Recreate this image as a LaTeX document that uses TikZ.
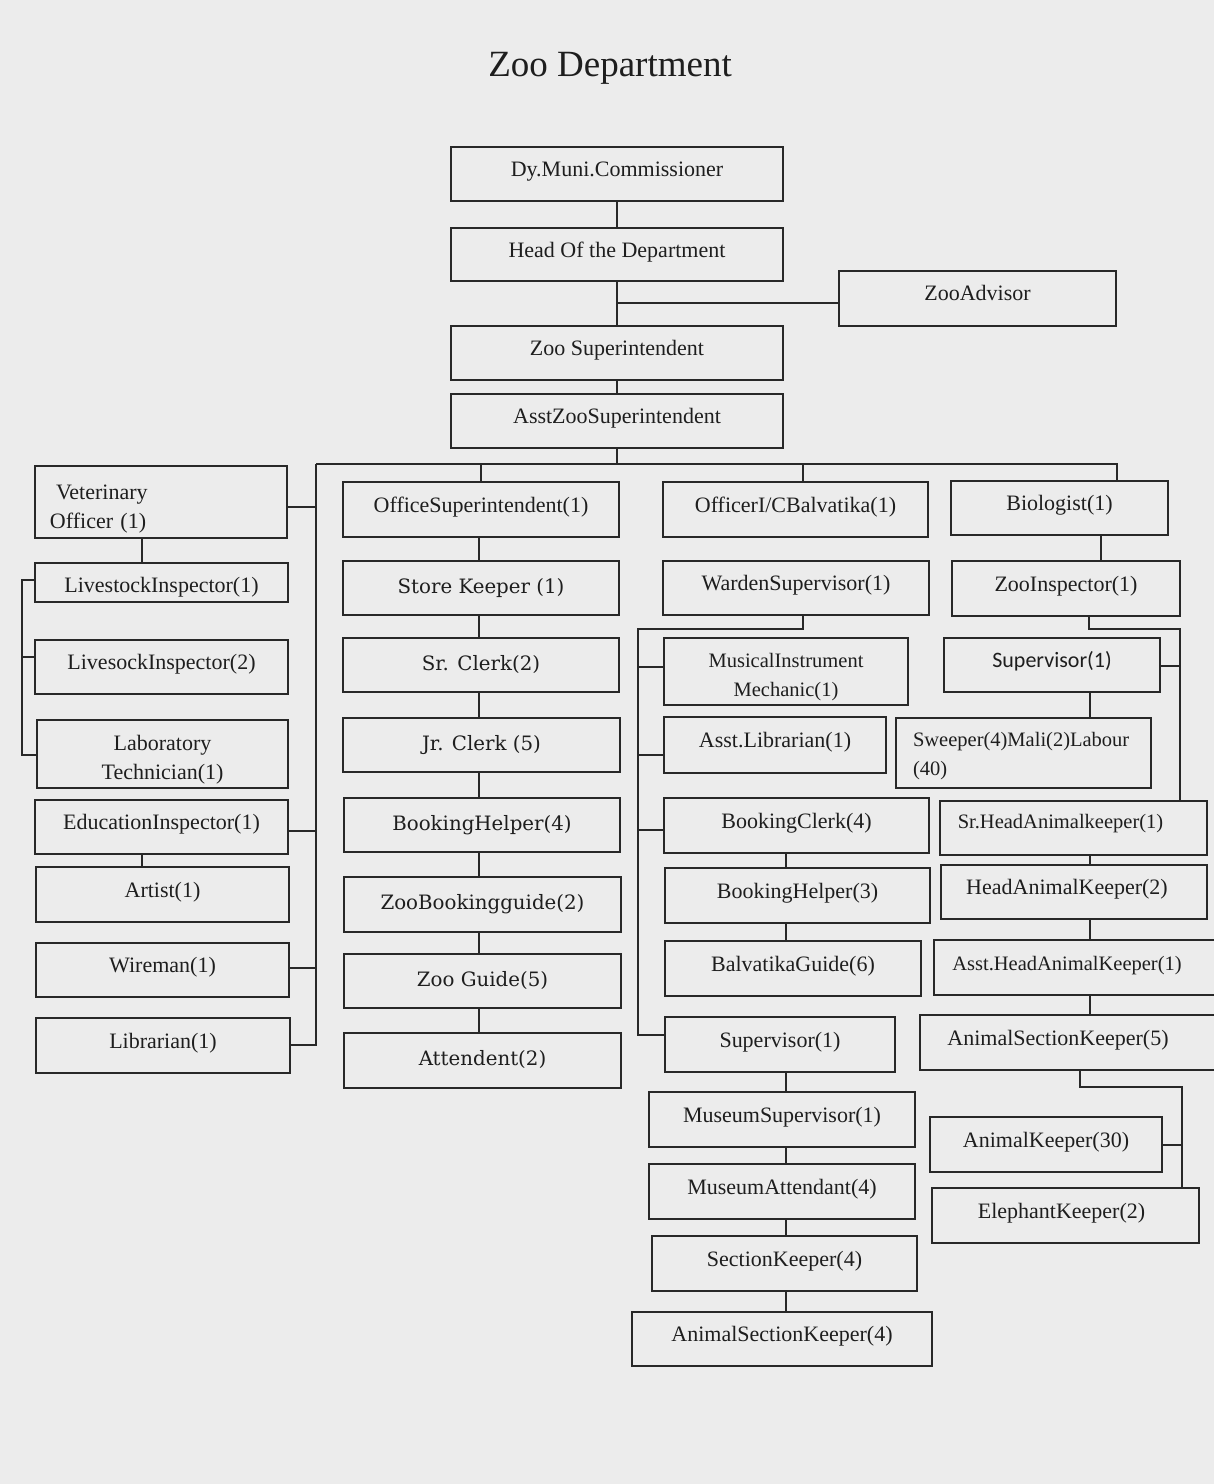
\documentclass[tikz,border=0pt]{standalone}
\usepackage{fontspec}
\setmainfont{Liberation Serif}
\newfontfamily\wideserif{DejaVu Serif}
\newfontfamily\calib{Carlito}
\definecolor{bg}{RGB}{236,236,236}
\definecolor{ink}{RGB}{40,40,40}
\definecolor{txt}{RGB}{30,30,30}
\newcommand\bx[7]{\node[box,minimum width={(#4-#2)*1pt},minimum height={(#5-#3)*1pt},#7] (#1) at ({(#2+#4)/2},{(#3+#5)/2}) {#6};}
\newcommand\bxm[7]{\node[boxm,minimum width={(#4-#2)*1pt},minimum height={(#5-#3)*1pt},#7] (#1) at ({(#2+#4)/2},{(#3+#5)/2}) {#6};}
\begin{document}
\begin{tikzpicture}[x=1pt,y=-1pt]
\tikzset{
 boxbase/.style={draw=ink, line width=1.6pt, inner sep=0pt, align=center, text=txt, font=\fontsize{22}{29}\selectfont},
 box/.style={boxbase, text height=15pt, text depth=10pt},
 boxm/.style={boxbase},
 fsmall/.style={font=\fontsize{20.5}{29}\selectfont},
 fwide/.style={font=\wideserif\fontsize{19.8}{24}\selectfont, text height=15pt, text depth=4.2pt},
 fsans/.style={font=\calib\fontsize{22}{26}\selectfont},
 conn/.style={draw=ink, line width=1.5pt},
}
\fill[bg] (0,0) rectangle (1214,1484);
\useasboundingbox (0,0) rectangle (1214,1484);
\node[font=\fontsize{37}{40}\selectfont, text=txt] (title) at (610,68) {Zoo Department};
% top
\bx{dy}{451}{147}{783}{201}{Dy.Muni.Commissioner}{}
\bx{hod}{451}{228}{783}{281}{Head Of the Department}{}
\bx{adv}{839}{271}{1116}{326}{ZooAdvisor}{text depth=12pt}
\bx{zs}{451}{326}{783}{380}{Zoo Superintendent}{}
\bx{azs}{451}{394}{783}{448}{AsstZooSuperintendent}{}
% left column
\bxm{vet}{35}{466}{287}{538}{\rule{0pt}{29pt}Veterinary\\\hspace*{-6pt}Officer (1)}{text width=210pt, align=left}
\bx{li1}{35}{563}{288}{602}{LivestockInspector(1)}{text height=25pt, text depth=4.6pt}
\bx{li2}{35}{640}{288}{694}{LivesockInspector(2)}{}
\bxm{lab}{37}{720}{288}{788}{\rule{0pt}{26pt}Laboratory\\Technician(1)}{}
\bx{edu}{35}{800}{288}{854}{EducationInspector(1)}{}
\bx{art}{36}{867}{289}{922}{Artist(1)}{}
\bx{wire}{36}{943}{289}{997}{Wireman(1)}{}
\bx{lib}{36}{1018}{290}{1073}{Librarian(1)}{}
% middle column
\bx{os}{343}{482}{619}{537}{OfficeSuperintendent(1)}{}
\bx{sk}{343}{561}{619}{615}{Store Keeper (1)}{fwide}
\bx{sc}{343}{638}{619}{692}{Sr. Clerk(2)}{fwide}
\bx{jc}{343}{718}{620}{772}{Jr. Clerk (5)}{fwide}
\bx{bhf}{344}{798}{620}{852}{BookingHelper(4)}{fwide}
\bx{zbg}{344}{877}{621}{932}{ZooBookingguide(2)}{fwide}
\bx{zg}{344}{954}{621}{1008}{Zoo Guide(5)}{fwide}
\bx{att}{344}{1033}{621}{1088}{Attendent(2)}{fwide}
% third column
\bx{oic}{663}{482}{928}{537}{OfficerI/CBalvatika(1)}{}
\bx{ws}{663}{561}{929}{615}{WardenSupervisor(1)}{}
\bxm{mim}{664}{638}{908}{705}{\rule{0pt}{25pt}MusicalInstrument\\Mechanic(1)}{fsmall}
\bx{al}{664}{717}{886}{773}{Asst.Librarian(1)}{}
\bx{bc}{664}{798}{929}{853}{BookingClerk(4)}{}
\bx{bht}{665}{868}{930}{923}{BookingHelper(3)}{}
\bx{bg}{665}{941}{921}{996}{BalvatikaGuide(6)}{}
\bx{supo}{665}{1017}{895}{1072}{Supervisor(1)}{}
\bx{ms}{649}{1092}{915}{1147}{MuseumSupervisor(1)}{}
\bx{ma}{649}{1164}{915}{1219}{MuseumAttendant(4)}{}
\bx{sek}{652}{1236}{917}{1291}{SectionKeeper(4)}{}
\bx{askf}{632}{1312}{932}{1366}{AnimalSectionKeeper(4)}{}
% fourth column
\bx{bio}{951}{481}{1168}{535}{Biologist(1)}{}
\bx{zi}{952}{561}{1180}{616}{ZooInspector(1)}{}
\bx{sv}{944}{638}{1160}{692}{Supervisor(1)}{fsans}
\bxm{sw}{896}{718}{1151}{788}{\rule{0pt}{21pt}Sweeper(4)Mali(2)Labour\\(40)}{fsmall, text width=221pt, align=left}
\bx{shak}{940}{801}{1207}{855}{\hspace*{-26pt}Sr.HeadAnimalkeeper(1)}{fsmall, text depth=14.4pt}
\bx{hak}{941}{865}{1207}{919}{\hspace*{-14pt}HeadAnimalKeeper(2)}{}
\bx{ahak}{934}{940}{1218}{995}{\hspace*{-18pt}Asst.HeadAnimalKeeper(1)}{fsmall}
\bx{askv}{920}{1015}{1218}{1070}{\hspace*{-22pt}AnimalSectionKeeper(5)}{}
\bx{ak}{930}{1117}{1162}{1172}{AnimalKeeper(30)}{}
\bx{ek}{932}{1188}{1199}{1243}{\hspace*{-8pt}ElephantKeeper(2)}{}
% ---- connectors
\coordinate (advY) at (0,303);
\draw[conn] (dy.south) -- (hod.north);
\draw[conn] (hod.south) -- (zs.north);
\draw[conn] (hod.south |- advY) -- (adv.west |- advY);
\draw[conn] (zs.south) -- (azs.north);
\coordinate (busL) at (316,464);
\coordinate (busR) at (1117,464);
\coordinate (busO) at (803,464);
\draw[conn] (azs.south) -- (azs.south |- busL);
\draw[conn] (busL) -- (busR) -- (bio.north -| busR);
\draw[conn] (os.north |- busL) -- (os.north);
\draw[conn] (busO) -- (oic.north -| busO);
% left column
\coordinate (lbBot) at (316,1045);
\draw[conn] (busL) -- (lbBot) -- (lbBot -| lib.east);
\coordinate (yVet) at (0,507);
\coordinate (yEdu) at (0,831);
\coordinate (yWire) at (0,968);
\draw[conn] (vet.east |- yVet) -- (busL |- yVet);
\draw[conn] (edu.east |- yEdu) -- (busL |- yEdu);
\draw[conn] (wire.east |- yWire) -- (busL |- yWire);
\coordinate (xLv) at (142,0);
\draw[conn] (vet.south -| xLv) -- (li1.north -| xLv);
\draw[conn] (edu.south -| xLv) -- (art.north -| xLv);
\coordinate (brT) at (22,580);
\coordinate (brM) at (22,657);
\coordinate (brB) at (22,755);
\draw[conn] (li1.west |- brT) -- (brT) -- (brB) -- (lab.west |- brB);
\draw[conn] (brM) -- (li2.west |- brM);
% middle column
\coordinate (xMid) at (479,0);
\foreach \a/\b in {os/sk, sk/sc, sc/jc, jc/bhf, bhf/zbg, zbg/zg, zg/att}
  \draw[conn] (\a.south -| xMid) -- (\b.north -| xMid);
% third column
\coordinate (wsA) at (803,629);
\coordinate (wsB) at (638,629);
\coordinate (wsC) at (638,1035);
\draw[conn] (ws.south -| wsA) -- (wsA) -- (wsB) -- (wsC) -- (supo.west |- wsC);
\coordinate (yMim) at (0,667);
\coordinate (yAl) at (0,755);
\coordinate (yBc) at (0,830);
\draw[conn] (wsB |- yMim) -- (mim.west |- yMim);
\draw[conn] (wsB |- yAl) -- (al.west |- yAl);
\draw[conn] (wsB |- yBc) -- (bc.west |- yBc);
\coordinate (xThr) at (786,0);
\foreach \a/\b in {bc/bht, bht/bg, supo/ms, ms/ma, ma/sek, sek/askf}
  \draw[conn] (\a.south -| xThr) -- (\b.north -| xThr);
% fourth column
\coordinate (xBio) at (1101,0);
\draw[conn] (bio.south -| xBio) -- (zi.north -| xBio);
\coordinate (ziA) at (1089,629);
\coordinate (ziB) at (1180,629);
\draw[conn] (zi.south -| ziA) -- (ziA) -- (ziB) -- (shak.north -| ziB);
\coordinate (ySv) at (0,666);
\draw[conn] (sv.east |- ySv) -- (ziB |- ySv);
\coordinate (xFr) at (1090,0);
\foreach \a/\b in {sv/sw, shak/hak, hak/ahak, ahak/askv}
  \draw[conn] (\a.south -| xFr) -- (\b.north -| xFr);
\coordinate (akA) at (1080,1087);
\coordinate (akB) at (1182,1087);
\draw[conn] (askv.south -| akA) -- (akA) -- (akB) -- (ek.north -| akB);
\coordinate (yAk) at (0,1145);
\draw[conn] (ak.east |- yAk) -- (akB |- yAk);
\end{tikzpicture}
\end{document}
